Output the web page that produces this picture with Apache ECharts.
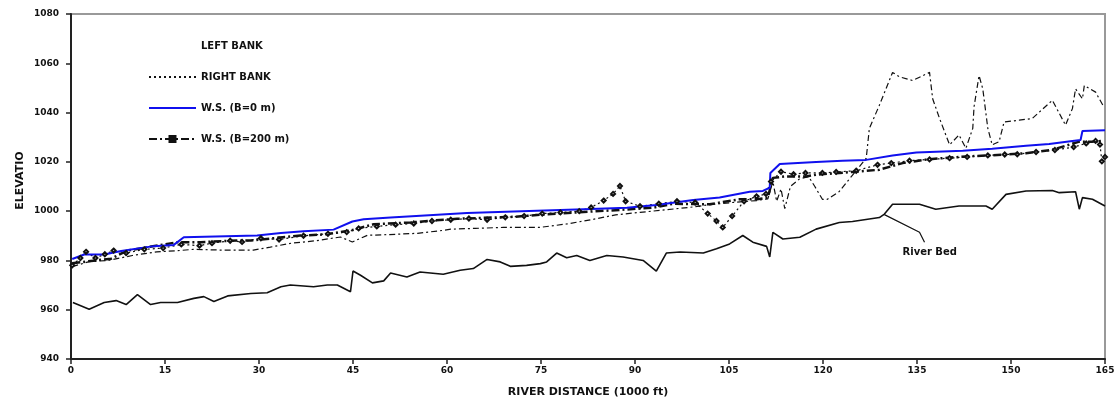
<!DOCTYPE html>
<html>
<head>
<meta charset="utf-8">
<script src="https://cdn.jsdelivr.net/npm/echarts@6/dist/echarts.min.js"></script>
<style>
    html, body { margin: 0; padding: 0; background: #fff; }
    #chart { width: 1120px; height: 403px; }
</style>
</head>
<body>
<div id="chart"></div>
<script>
'use strict';

// axis ticks
const xTicks = [0, 15, 30, 45, 60, 75, 90, 105, 120, 135, 150, 165];
const yTicks = [940, 960, 980, 1000, 1020, 1040, 1060, 1080];

// [river distance (1000 ft), elevation]
const riverBed = [[0.3,962.9],[2.9,960.2],[5.3,962.9],[7.2,963.7],[8.8,962.1],[10.6,966.1],[12.7,962.1],[14.3,962.9],[17.0,962.9],[19.6,964.6],[21.2,965.3],[22.8,963.3],[25.0,965.6],[28.7,966.6],[31.3,966.9],[33.5,969.3],[35.0,970.0],[38.7,969.3],[40.9,970.0],[42.5,970.0],[44.6,967.3],[45.0,975.7],[46.2,974.0],[48.1,970.9],[49.9,971.7],[51.0,974.9],[53.6,973.3],[55.7,975.3],[59.4,974.4],[62.1,976.0],[64.2,976.7],[66.4,980.4],[68.5,979.4],[70.1,977.6],[72.7,978.0],[74.9,978.7],[75.9,979.4],[77.5,983.0],[79.1,981.1],[80.7,982.0],[82.8,980.0],[85.5,982.0],[88.1,981.4],[91.3,980.0],[93.4,975.7],[95.0,983.0],[97.2,983.4],[100.9,983.0],[103.0,984.7],[105.1,986.7],[107.2,990.1],[108.8,987.4],[111.0,985.7],[111.5,981.4],[112.0,991.4],[113.6,988.7],[116.3,989.4],[118.9,992.7],[122.6,995.4],[124.7,995.8],[129.0,997.4],[129.8,998.8],[131.1,1002.8],[135.4,1002.8],[138.0,1000.8],[141.7,1002.1],[146.0,1002.1],[147.0,1000.8],[149.2,1006.8],[152.4,1008.2],[156.6,1008.4],[157.7,1007.5],[160.3,1007.9],[160.9,1000.8],[161.4,1005.5],[163.0,1004.8],[165,1002.1]];

const wsB0 = [[0.2,980.6],[2.1,982.4],[5.3,982.4],[8.0,983.8],[13.2,985.8],[16.4,986.3],[18.0,989.4],[29.7,990.1],[33.5,991.1],[37.1,991.8],[41.9,992.5],[44.9,995.8],[46.7,996.7],[51.0,997.4],[57.8,998.4],[63.2,999.2],[81.8,1000.8],[88.7,1001.4],[93.4,1002.5],[99.3,1004.5],[103.5,1005.5],[108.3,1007.9],[110.4,1008.2],[111.5,1009.5],[111.6,1015.5],[113.1,1019.1],[118.9,1019.9],[123.1,1020.4],[126.9,1020.8],[131.1,1022.6],[134.9,1023.8],[142.3,1024.5],[147.0,1025.3],[152.4,1026.5],[156.1,1027.2],[159.8,1028.5],[161.1,1028.9],[161.4,1032.5],[165,1032.8]];

const wsB200 = [[0.2,978.9],[6.4,980.7],[9.0,984.0],[17.0,987.4],[20.7,987.4],[26.6,988.1],[28.7,988.1],[36.6,990.1],[40.3,990.5],[44.6,992.1],[48.3,994.7],[54.2,995.4],[57.3,996.1],[61.6,996.9],[70.6,997.7],[77.5,999.0],[82.8,999.8],[87.6,1000.5],[92.9,1001.4],[96.1,1003.0],[101.9,1002.8],[106.7,1004.8],[109.4,1004.8],[111.2,1005.5],[112.0,1013.5],[114.1,1014.1],[117.3,1014.1],[118.9,1014.8],[122.6,1015.5],[124.7,1015.9],[129.0,1016.8],[132.7,1019.5],[137.0,1021.1],[142.8,1022.2],[148.6,1022.9],[152.4,1023.5],[156.6,1024.9],[160.9,1028.2],[162.9,1028.2],[164.5,1028.5]];

const leftBank = [[0.2,977.5],[2.9,979.5],[5.9,980],[9.8,982],[13.7,983.5],[16.8,983.9],[19.5,984.5],[23.9,984.2],[25.0,984.2],[29.1,984.2],[31.8,985.4],[35.2,987],[39.1,988],[43.0,989.5],[44.9,987.5],[47.3,990.2],[50.8,990.5],[55.3,991],[59.4,992.2],[60.6,992.7],[64.5,993],[69.0,993.4],[74.8,993.4],[79.1,994.8],[83.0,996.5],[86.9,998.5],[90.8,999.5],[94.7,1000.5],[98.6,1001.5],[101.6,1002.5],[105.5,1003.5],[109.4,1004.3],[111.2,1005],[112.0,1012],[112.6,1004],[113.3,1009],[113.9,1001],[114.8,1010],[116.2,1013],[117.7,1014],[118.7,1010],[119.9,1004.8],[120.7,1004.8],[122.6,1008],[126.9,1021.5],[127.4,1033.6],[129.0,1043],[131.1,1056.3],[132.2,1054.5],[134.3,1053],[137.0,1056.3],[137.5,1045.6],[138.6,1037.6],[140.2,1026.9],[141.7,1030.9],[142.8,1025.5],[143.9,1033.6],[144.1,1042.3],[144.9,1055],[145.5,1049.6],[146.3,1033.6],[147.0,1026.9],[148.1,1028.2],[148.9,1036.2],[151.3,1036.9],[153.4,1037.6],[156.6,1045],[158.7,1034.9],[159.8,1041.6],[160.3,1049.6],[161.4,1045.6],[161.7,1051],[163.5,1048.3],[164.8,1042.3]];

const rightBank = [[0.2,978],[1.5,981],[2.4,983.5],[3.9,981],[5.4,982.5],[6.8,984],[8.8,983],[11.7,984.5],[14.7,985],[17.6,986.5],[20.5,986],[22.5,987],[25.4,988],[27.3,987.5],[30.3,989],[33.2,988.5],[37.1,990],[41.0,990.8],[44.0,991.5],[45.9,993],[48.8,993.8],[51.8,994.5],[54.7,995],[57.6,996],[60.6,996.5],[63.5,997],[66.4,996.5],[69.3,997.5],[72.3,998],[75.2,999],[78.1,999.5],[81.1,1000],[83.0,1001.5],[85.0,1004.3],[86.5,1007],[87.6,1010.2],[88.5,1004],[90.8,1002],[93.8,1003],[96.7,1004],[99.6,1003.5],[101.6,999],[103.0,996],[104.0,993.4],[105.5,998],[107.4,1004],[109.4,1006],[110.9,1007],[111.7,1012],[113.3,1016],[115.3,1015],[117.2,1015.5],[119.9,1015.5],[122.1,1015.9],[125.3,1016.4],[128.7,1018.8],[130.9,1019.5],[133.8,1020.5],[137.0,1021],[140.2,1021.5],[143.0,1022],[146.3,1022.6],[149.0,1023],[151.0,1023.1],[154.0,1024],[157.0,1024.8],[160.0,1026],[162.0,1027.5],[163.5,1028.5],[164.2,1027],[164.5,1020.2],[165,1022]];

// leader line of the "River Bed" note
const bedLeader = [[129.8,998.6],[135.4,991.4],[136.2,987.4]];

const FONT = "DejaVu Sans";
const chart = echarts.init(document.getElementById("chart"), null, { renderer: "canvas" });

chart.setOption({
    animation: false,
    backgroundColor: "#fff",
    grid: {
        left: 71, right: 15, top: 14, bottom: 40,
        show: true, borderColor: "#999", borderWidth: 2
    },
    legend: {
        orient: "vertical",
        left: 143, top: 36,
        itemWidth: 47, itemHeight: 10, itemGap: 21,
        textStyle: { fontFamily: FONT, fontSize: 10, fontWeight: "bold", color: "#111" },
        data: [
            { name: "LEFT BANK", lineStyle: { opacity: 0 }, itemStyle: { opacity: 0 } },
            { name: "RIGHT BANK", itemStyle: { opacity: 0 } },
            { name: "W.S. (B=0 m)", itemStyle: { opacity: 0 } },
            { name: "W.S. (B=200 m)" }
        ]
    },
    xAxis: {
        type: "value",
        min: xTicks[0], max: xTicks[xTicks.length - 1],
        interval: xTicks[1] - xTicks[0],
        name: "RIVER DISTANCE (1000 ft)",
        nameLocation: "middle", nameGap: 28,
        nameTextStyle: { fontFamily: FONT, fontSize: 11, fontWeight: "bold", color: "#111" },
        axisLine: { lineStyle: { color: "#222", width: 2 } },
        axisTick: { length: 5, lineStyle: { color: "#222", width: 1.5 } },
        axisLabel: { margin: 7, fontFamily: FONT, fontSize: 9, fontWeight: "bold", color: "#111" },
        splitLine: { show: false }
    },
    yAxis: {
        type: "value",
        min: yTicks[0], max: yTicks[yTicks.length - 1],
        interval: yTicks[1] - yTicks[0],
        name: "ELEVATIO",
        nameLocation: "middle", nameGap: 45, nameRotate: 90,
        nameMoveOverlap: false,
        nameTextStyle: { fontFamily: FONT, fontSize: 11, fontWeight: "bold", color: "#111", padding: [0, 0, 0, 12] },
        axisLine: { show: true, lineStyle: { color: "#222", width: 2 } },
        axisTick: { show: true, length: 5, lineStyle: { color: "#222", width: 1.5 } },
        axisLabel: {
            margin: 12, fontFamily: FONT, fontSize: 9, fontWeight: "bold", color: "#111",
            formatter: (v) => String(v)
        },
        splitLine: { show: false }
    },
    series: [
        {
            name: "River Bed", type: "line", data: riverBed,
            symbol: "none", silent: true,
            lineStyle: { color: "#111", width: 1.6 }
        },
        {
            name: "bed note", type: "line", data: bedLeader,
            symbol: "none", silent: true,
            lineStyle: { color: "#111", width: 1.2 },
            endLabel: {
                show: true, formatter: "River Bed",
                offset: [-30, 10],
                fontFamily: FONT, fontSize: 10, fontWeight: "bold", color: "#111"
            }
        },
        {
            name: "LEFT BANK", type: "line", data: leftBank,
            symbol: "none",
            lineStyle: { color: "#111", width: 1.2, type: [6, 3, 2, 3] }
        },
        {
            name: "RIGHT BANK", type: "line", data: rightBank,
            symbol: "emptyDiamond", symbolSize: 4,
            itemStyle: { color: "#111", borderWidth: 0.8 },
            lineStyle: { color: "#111", width: 1.2, type: [2, 3] }
        },
        {
            name: "W.S. (B=200 m)", type: "line", data: wsB200,
            symbol: "rect", symbolSize: [7, 4], showSymbol: false,
            itemStyle: { color: "#111" },
            lineStyle: { color: "#111", width: 2.5, type: [8, 3, 2, 3] }
        },
        {
            name: "W.S. (B=0 m)", type: "line", data: wsB0,
            symbol: "none",
            itemStyle: { color: "#1010ee" },
            lineStyle: { color: "#1010ee", width: 2 }
        }
    ]
});
</script>
</body>
</html>
